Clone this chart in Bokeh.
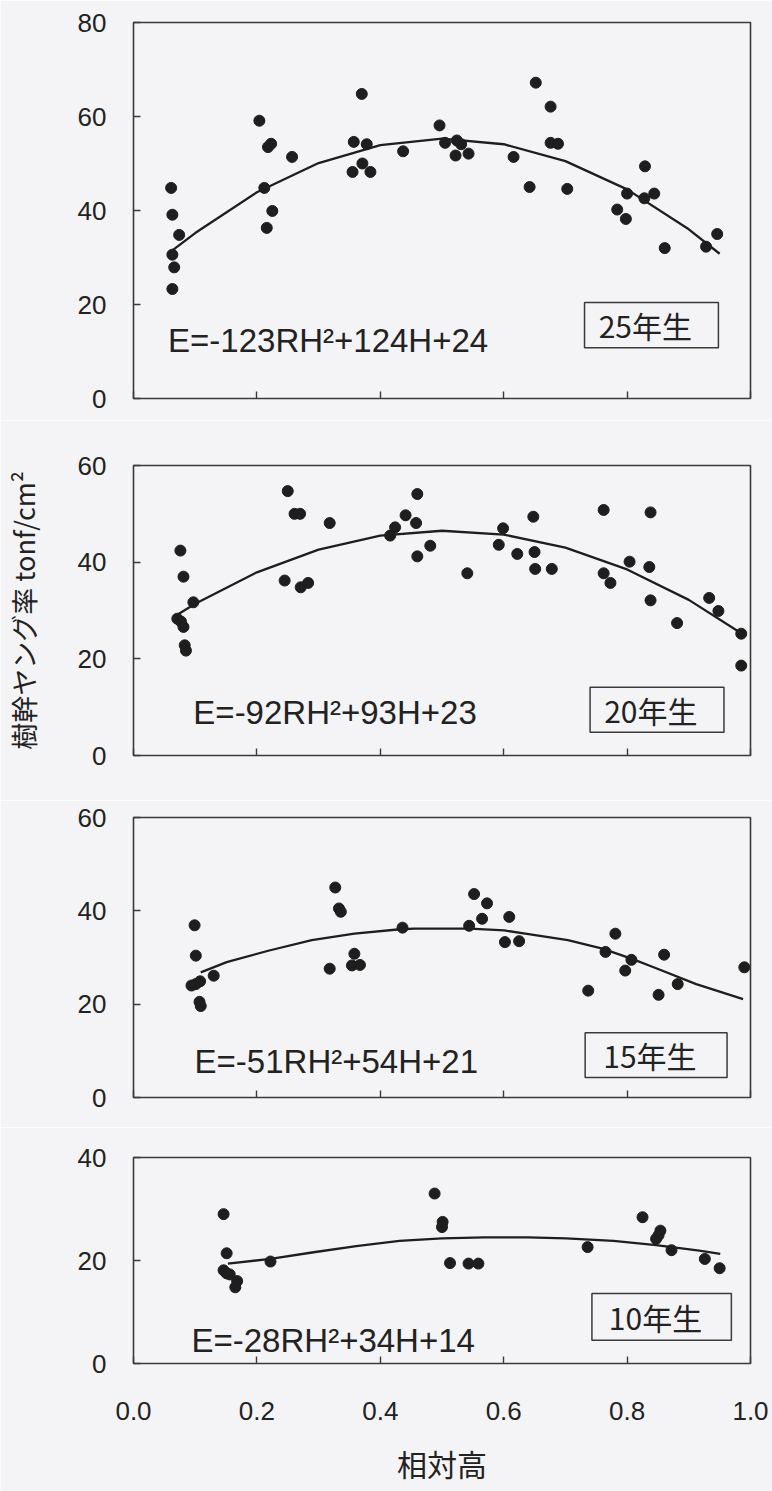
from bokeh.plotting import figure
from bokeh.layouts import column
from bokeh.models import Range1d, FixedTicker, PrintfTickFormatter, Label
from bokeh.embed import file_html
from bokeh.resources import INLINE

# ---------------- data ----------------
# relative height H and stem Young's modulus E (tonf/cm2)
h25 = [0.061, 0.063, 0.074, 0.063, 0.066, 0.063, 0.204, 0.218, 0.223, 0.212, 0.225, 0.216,
       0.257, 0.370, 0.357, 0.378, 0.371, 0.355, 0.384, 0.437, 0.496, 0.505, 0.524, 0.531,
       0.522, 0.543, 0.616, 0.642, 0.652, 0.676, 0.676, 0.688, 0.703, 0.784, 0.798, 0.800,
       0.829, 0.828, 0.844, 0.861, 0.928, 0.946]
e25 = [44.8, 39.1, 34.8, 30.6, 27.9, 23.3, 59.1, 53.5, 54.2, 44.8, 39.9, 36.3,
       51.4, 64.8, 54.6, 54.1, 50.0, 48.2, 48.2, 52.6, 58.1, 54.4, 54.9, 54.1,
       51.7, 52.1, 51.4, 45.0, 67.2, 62.1, 54.4, 54.2, 44.6, 40.2, 38.2, 43.6,
       49.4, 42.6, 43.6, 32.0, 32.3, 35.0]

h20 = [0.076, 0.081, 0.097, 0.071, 0.077, 0.081, 0.083, 0.085, 0.250, 0.261, 0.270, 0.245,
       0.271, 0.283, 0.318, 0.416, 0.424, 0.441, 0.460, 0.458, 0.460, 0.481, 0.541, 0.592,
       0.599, 0.622, 0.648, 0.650, 0.651, 0.678, 0.762, 0.762, 0.773, 0.804, 0.838, 0.836,
       0.838, 0.881, 0.933, 0.948, 0.985, 0.985]
e20 = [42.4, 37.0, 31.7, 28.3, 27.7, 26.6, 22.8, 21.7, 54.7, 50.0, 50.0, 36.2,
       34.8, 35.7, 48.1, 45.5, 47.2, 49.7, 54.1, 48.1, 41.2, 43.4, 37.7, 43.6,
       47.0, 41.7, 49.4, 42.1, 38.6, 38.6, 50.8, 37.7, 35.7, 40.1, 50.3, 39.0,
       32.1, 27.4, 32.6, 29.9, 25.2, 18.6]

h15 = [0.099, 0.101, 0.094, 0.101, 0.108, 0.107, 0.109, 0.130, 0.327, 0.333, 0.336, 0.318,
       0.358, 0.354, 0.367, 0.436, 0.544, 0.552, 0.565, 0.573, 0.609, 0.602, 0.625, 0.737,
       0.765, 0.781, 0.797, 0.807, 0.851, 0.860, 0.882, 0.990]
e15 = [36.9, 30.4, 24.0, 24.3, 24.9, 20.5, 19.6, 26.1, 45.0, 40.5, 39.8, 27.6,
       30.8, 28.3, 28.4, 36.4, 36.8, 43.6, 38.3, 41.6, 38.7, 33.3, 33.5, 22.9,
       31.2, 35.1, 27.2, 29.5, 22.0, 30.6, 24.3, 27.9]

h10 = [0.146, 0.151, 0.146, 0.151, 0.156, 0.168, 0.165, 0.222, 0.488, 0.501, 0.500, 0.513,
       0.543, 0.559, 0.736, 0.825, 0.854, 0.847, 0.851, 0.872, 0.926, 0.950]
e10 = [29.0, 21.4, 18.1, 17.5, 17.3, 16.0, 14.8, 19.8, 33.0, 27.5, 26.5, 19.5,
       19.4, 19.4, 22.6, 28.4, 25.8, 24.2, 24.9, 22.0, 20.3, 18.5]

# fitted curves
fit25_h = [0.063, 0.1, 0.2, 0.3, 0.4, 0.5, 0.6, 0.7, 0.8, 0.9, 0.95]
fit25_e = [31.5, 35.2, 43.9, 50.1, 53.9, 55.3, 54.1, 50.5, 44.5, 36.0, 30.8]

fit20_h = [0.071, 0.1, 0.2, 0.3, 0.4, 0.5, 0.6, 0.7, 0.8, 0.9, 0.985]
fit20_e = [29.1, 31.4, 37.9, 42.6, 45.5, 46.5, 45.7, 43.0, 38.5, 32.2, 25.3]

fit15_h = [0.109, 0.151, 0.220, 0.289, 0.358, 0.428, 0.455, 0.545, 0.601, 0.635, 0.704,
           0.760, 0.808, 0.843, 0.912, 0.988]
fit15_e = [26.8, 29.0, 31.5, 33.7, 35.1, 36.0, 36.2, 36.2, 35.8, 35.1, 33.7,
           31.9, 29.7, 27.9, 24.3, 21.1]

fit10_h = [0.153, 0.222, 0.292, 0.361, 0.431, 0.500, 0.569, 0.639, 0.701, 0.778, 0.847, 0.917, 0.951]
fit10_e = [19.4, 20.3, 21.6, 22.8, 23.8, 24.3, 24.5, 24.5, 24.3, 23.8, 23.0, 21.9, 21.3]

ages = ["25年生", "20年生", "15年生", "10年生"]
equations = ["E=-123RH²+124H+24", "E=-92RH²+93H+23", "E=-51RH²+54H+21", "E=-28RH²+34H+14"]
y_max = [80, 60, 60, 40]
x_ticks = [0.0, 0.2, 0.4, 0.6, 0.8, 1.0]
x_title = "相対高"
y_title = "樹幹ヤング率 tonf/cm²"

# ---------------- styling / layout ----------------
BG = "#f4f4f6"
INK = "#1e1e1e"
FRAME = "#3a3a3a"
TXT = "#222222"
LATIN = "Liberation Sans"
CJK = "Noto Sans CJK JP"

series = [(h25, e25, fit25_h, fit25_e), (h20, e20, fit20_h, fit20_e),
          (h15, e15, fit15_h, fit15_e), (h10, e10, fit10_h, fit10_e)]

# (fig height, top border, bottom border)
geom = [(420, 22, 22), (380, 45, 45), (327, 17, 30), (364, 30, 128)]
eq_pos = [(0.056, 12.4), (0.097, 9.0), (0.099, 7.8), (0.094, 4.5)]
box_pos = [(0.731, 0.948, 10.8, 20.4), (0.740, 0.957, 4.8, 14.1),
           (0.732, 0.962, 4.3, 13.9), (0.743, 0.969, 4.5, 13.6)]

figs = []
for i in range(4):
    hgt, bt, bb = geom[i]
    p = figure(width=772, height=hgt, output_backend="svg", toolbar_location=None,
               x_range=Range1d(0, 1), y_range=Range1d(0, y_max[i]),
               min_border_left=125, min_border_right=22,
               min_border_top=bt, min_border_bottom=bb)
    p.background_fill_color = BG
    p.border_fill_color = BG
    p.outline_line_color = FRAME
    p.outline_line_width = 1.6
    p.grid.visible = False

    p.yaxis.ticker = FixedTicker(ticks=list(range(0, y_max[i] + 1, 20)))
    p.yaxis.axis_line_color = None
    p.yaxis.major_tick_in = 7
    p.yaxis.major_tick_out = 0
    p.yaxis.major_tick_line_color = FRAME
    p.yaxis.major_tick_line_width = 1.4
    p.yaxis.minor_tick_line_color = None
    p.yaxis.major_label_standoff = 27
    p.yaxis.major_label_text_font = LATIN
    p.yaxis.major_label_text_font_size = "26px"
    p.yaxis.major_label_text_color = TXT

    p.xaxis.ticker = FixedTicker(ticks=x_ticks)
    p.xaxis.formatter = PrintfTickFormatter(format="%.1f")
    p.xaxis.axis_line_color = None
    p.xaxis.major_tick_in = 7
    p.xaxis.major_tick_out = 0
    p.xaxis.major_tick_line_color = FRAME
    p.xaxis.major_tick_line_width = 1.4
    p.xaxis.minor_tick_line_color = None
    p.xaxis.major_label_text_font = LATIN
    if i < 3:
        p.xaxis.major_label_text_font_size = "0px"
        p.xaxis.major_label_text_color = None
        p.xaxis.major_label_standoff = 0
    else:
        p.xaxis.major_label_text_color = TXT
        p.xaxis.major_label_text_font_size = "26px"
        p.xaxis.major_label_standoff = 38
        p.xaxis.axis_label = x_title
        p.xaxis.axis_label_text_font = CJK
        p.xaxis.axis_label_text_font_style = "normal"
        p.xaxis.axis_label_text_font_size = "30px"
        p.xaxis.axis_label_text_color = TXT
        p.xaxis.axis_label_standoff = 18
    if i == 1:
        p.yaxis.axis_label = y_title
        p.yaxis.axis_label_text_font = CJK
        p.yaxis.axis_label_text_font_style = "normal"
        p.yaxis.axis_label_text_font_size = "27px"
        p.yaxis.axis_label_text_color = TXT
        p.yaxis.axis_label_standoff = 32

    hx, ey, fx, fy = series[i]
    p.line(fx, fy, line_color=INK, line_width=2.3)
    p.scatter(hx, ey, marker="circle", size=11, fill_color=INK, line_color=INK)

    ex, eyy = eq_pos[i]
    p.add_layout(Label(x=ex, y=eyy, text=equations[i], text_baseline="middle",
                       text_font=LATIN, text_font_size="33px", text_color=TXT))
    l, r, b, t = box_pos[i]
    p.quad(left=[l], right=[r], bottom=[b], top=[t], fill_color=None,
           line_color=FRAME, line_width=1.5)
    p.add_layout(Label(x=(l + r) / 2 - 0.01, y=(b + t) / 2, text=ages[i],
                       text_align="center", text_baseline="middle",
                       text_font=CJK, text_font_size="30px", text_color=TXT))
    figs.append(p)

layout = column(*figs, spacing=0)
open("out.html", "w").write(file_html(layout, INLINE))
